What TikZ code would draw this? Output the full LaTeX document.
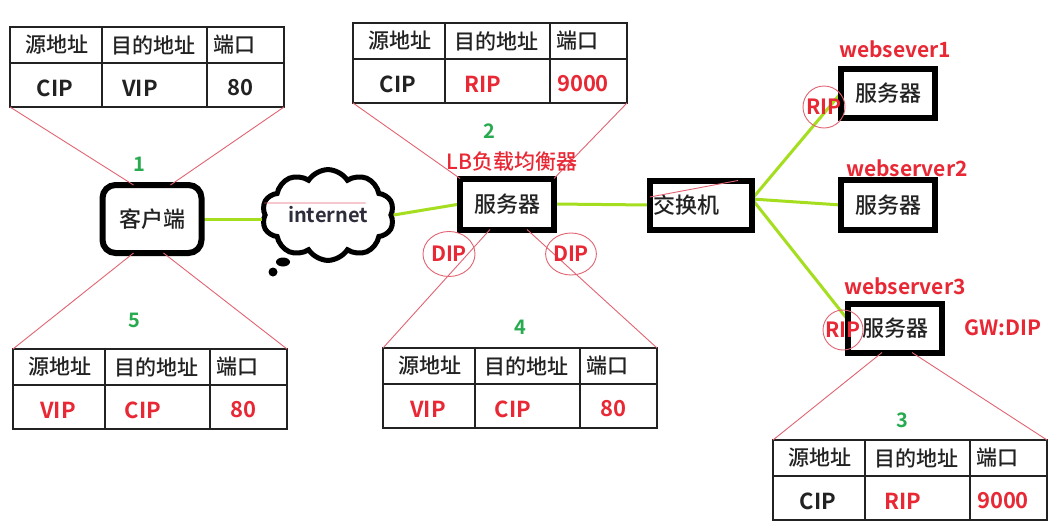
\documentclass[tikz,border=0pt]{standalone}
\usepackage{fontspec}
\setmainfont{Noto Sans CJK SC}[BoldFont={Noto Sans CJK SC Bold}]
\newfontfamily\cjkmed{Noto Sans CJK SC Medium}
\usetikzlibrary{shapes.symbols,shapes.geometric,calc}
\definecolor{tred}{RGB}{232,40,52}
\definecolor{lred}{RGB}{226,100,114}
\definecolor{tgreen}{RGB}{40,170,80}
\definecolor{lgreen}{RGB}{165,222,30}
\definecolor{ink}{RGB}{34,34,34}
\tikzset{
  tblframe/.style={draw=ink, line width=1.3pt, anchor=north west, minimum width=274pt, minimum height=80pt, inner sep=0pt, outer sep=0pt},
  tblline/.style={draw=ink, line width=1.3pt},
  hdr/.style={text=ink, font=\cjkmed\fontsize{21}{25}\selectfont, inner sep=1pt},
  dat/.style={text=ink, font=\bfseries\fontsize{22}{26}\selectfont, inner sep=1pt},
  devbox/.style={draw=black, line width=6pt, inner sep=0pt, outer sep=0pt, text=ink, font=\cjkmed\fontsize{22}{26}\selectfont},
  rline/.style={draw=lred, line width=0.9pt},
  gline/.style={draw=lgreen, line width=3pt},
  redlbl/.style={text=tred, font=\bfseries\fontsize{21}{25}\selectfont, inner sep=1pt},
  steplbl/.style={text=tgreen, font=\bfseries\fontsize{20}{24}\selectfont, inner sep=1pt},
  ipmark/.style={draw=lred, line width=0.9pt, text=tred, font=\bfseries\fontsize{21}{25}\selectfont, inner sep=0pt},
}
\newcommand\pkttable[6]{%
\begin{scope}[shift={(#2,#3)}]
\node[tblframe] (#1) at (0,0) {};
\draw[tblline] (0,36) -- (274,36) (92,0) -- (92,80) (197,0) -- (197,80);
\node[hdr] (#1-h1) at (47,18) {源地址};
\node[hdr] (#1-h2) at (143,18) {目的地址};
\node[hdr,anchor=west] (#1-h3) at (202,18) {端口};
\node[dat] (#1-src) at (45,61) {#4};
\node[dat] (#1-dst) at (130,61) {#5};
\node[dat] (#1-port) at (230,61) {#6};
\end{scope}}
\begin{document}
\begin{tikzpicture}[x=1pt,y=-1pt]
\useasboundingbox (0,0) rectangle (1058,525);
\fill[white] (0,0) rectangle (1058,525);

% packet tables
\pkttable{t1}{10}{27}{CIP}{VIP}{80}
\pkttable{t2}{353}{23}{CIP}{\textcolor{tred}{RIP}}{\textcolor{tred}{9000}}
\pkttable{t5}{13}{349}{\textcolor{tred}{VIP}}{\textcolor{tred}{CIP}}{\textcolor{tred}{80}}
\pkttable{t4}{383}{348}{\textcolor{tred}{VIP}}{\textcolor{tred}{CIP}}{\textcolor{tred}{80}}
\pkttable{t3}{773}{440}{CIP}{\textcolor{tred}{RIP}}{\textcolor{tred}{9000}}

% device nodes (positions)
\node[devbox, draw=none, rounded corners=13pt, minimum width=99pt, minimum height=68pt] (client) at (152,219) {客户端};
\node[cloud, draw=black, line width=5pt, cloud puffs=10, cloud puff arc=115, aspect=1.5,
      minimum width=132pt, minimum height=90pt, inner sep=0pt, text={rgb,255:red,45;green,45;blue,60},
      font=\bfseries\fontsize{20}{24}\selectfont] (cloud) at (328,215) {internet};
\node[devbox, draw=none, minimum width=94pt, minimum height=51pt] (lb) at (507,204) {服务器};
\node[devbox, draw=none, minimum width=102pt, minimum height=49pt, text width=96pt, align=left, inner xsep=3pt] (switch) at (701,205) {交换机};
\node[devbox, draw=none, minimum width=94pt, minimum height=49pt] (ws1) at (888,93) {服务器};
\node[devbox, draw=none, minimum width=94pt, minimum height=50pt] (ws2) at (888,205) {服务器};
\node[devbox, draw=none, minimum width=94pt, minimum height=49pt] (ws3) at (895,328) {服务器};

% green links
\coordinate (swhub) at ($(switch.east)+(0,-6)$);
\coordinate (ws3in) at ($(ws3.west)+(0,-8)$);
\draw[gline] (client.east) -- (client.east -| cloud.west);
\draw[gline] (cloud.east) -- (lb.west);
\draw[gline] (lb.east) -- (switch.west);
\draw[gline] (swhub) -- (ws1.west);
\draw[gline] (swhub) -- (ws2.west);
\draw[gline] (swhub) -- (ws3in);

% box outlines on top of links
\draw[black, line width=6pt, rounded corners=13pt] (client.north west) rectangle (client.south east);
\foreach \b in {lb,switch,ws1,ws2,ws3}{
  \draw[black, line width=6pt] (\b.north west) rectangle (\b.south east);
}
\fill[black] (283,262) ellipse (7 and 4.5);
\fill[black] (273,272) circle (4.5);

% red projection lines
\draw[rline] (t1.south west) -- ($(client.north west)+(31,0)$);
\draw[rline] (t1.south east) -- ($(client.north west)+(68,0)$);
\draw[rline] ($(client.south west)+(31,0)$) -- (t5.north west);
\draw[rline] ($(client.south west)+(61,0)$) -- (t5.north east);
\draw[rline] (t2.south west) -- (lb.north west);
\draw[rline] (t2.south east) -- (lb.north east);
\draw[rline] ($(lb.south west)+(30,0)$) -- (t4.north west);
\draw[rline] ($(lb.south west)+(67,0)$) -- (t4.north east);
\draw[rline] ($(ws3.south west)+(34,0)$) -- (t3.north west);
\draw[rline] ($(ws3.south west)+(64,0)$) -- (t3.north east);
\draw[rline] ($(cloud.west)+(2,-12)$) -- ($(cloud.east)+(-28,-12)$);
\draw[rline] ($(switch.west)+(0,-8)$) -- ($(switch.north east)+(-14,0)$);

% IP markers
\node[ipmark, ellipse, minimum width=52pt, minimum height=45pt] (dip1) at (449,254) {DIP};
\node[ipmark, ellipse, minimum width=48pt, minimum height=42pt] (dip2) at (571,254) {DIP};
\node[ipmark, circle, minimum size=42pt] (rip1) at (824,107) {RIP};
\node[ipmark, circle, minimum size=40pt] (rip3) at (843,330) {RIP};

% labels
\node[redlbl, font=\cjkmed\fontsize{21}{25}\selectfont] (lblb) at (512,162) {LB负载均衡器};
\node[redlbl] (lws1) at (895,49) {websever1};
\node[redlbl] (lws2) at (907,168) {webserver2};
\node[redlbl] (lws3) at (905,286) {webserver3};
\node[redlbl] (gw) at (1003,328) {GW:DIP};
\node[steplbl] (n1) at (139,164) {1};
\node[steplbl] (n2) at (489,131) {2};
\node[steplbl] (n3) at (902,420) {3};
\node[steplbl] (n4) at (520,327) {4};
\node[steplbl] (n5) at (134,320) {5};
\end{tikzpicture}
\end{document}
